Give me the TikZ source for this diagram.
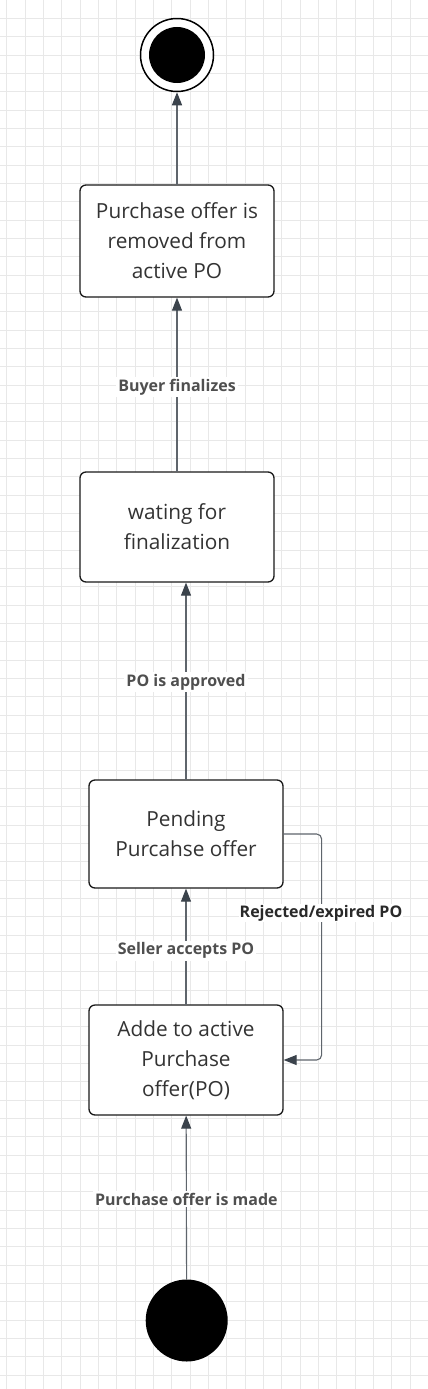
\documentclass[tikz,border=0pt]{standalone}
\usepackage{fontspec}
\setmainfont{Open Sans}
\usetikzlibrary{arrows.meta}
\definecolor{gridgray}{HTML}{E8E8E8}
\definecolor{linegray}{HTML}{5F656C}
\definecolor{tipgray}{HTML}{3B434C}
\definecolor{textgray}{HTML}{333333}
\definecolor{labelgray}{HTML}{4F4F4F}
\tikzset{
  state/.style={draw=black!90, line width=1.3pt, rounded corners=6pt, fill=white,
    minimum width=194pt, minimum height=110pt, align=center, text=textgray,
    font=\fontsize{20.8}{30}\selectfont},
  flow/.style={draw=linegray, line width=1.1pt,
    -{Triangle[length=13pt,width=10pt,color=tipgray]}},
  translabel/.style={fill=white, inner sep=2pt, text=labelgray,
    font=\fontsize{16}{18}\selectfont\bfseries},
}
\begin{document}
\begin{tikzpicture}[x=1pt, y=-1pt, line join=round, line cap=round]
  \def\W{428} \def\H{1389}
  \useasboundingbox (0,0) rectangle (\W,\H);
  \fill[white] (0,0) rectangle (\W,\H);
  % grid
  \foreach \i in {0,...,23} \draw[gridgray, line width=0.8pt] ({6.7+18.333*\i},0)--({6.7+18.333*\i},\H);
  \foreach \j in {1,...,75} \draw[gridgray, line width=0.8pt] (0,{18.333*\j})--(\W,{18.333*\j});
  % states
  \node[circle, fill=black, minimum size=82pt, inner sep=0pt] (start) at (186.7,1320.5) {};
  \node[state] (added) at (186,1060) {Adde to active\\Purchase\\offer(PO)};
  \node[state, minimum height=108pt] (pending) at (186,834) {Pending\\Purcahse offer};
  \node[state] (waiting) at (177,527) {wating for\\finalization};
  \node[state, minimum height=112pt] (removed) at (177,241) {Purchase offer is\\removed from\\active PO};
  \node[circle, draw=black, line width=1.5pt, fill=white, minimum size=73pt, inner sep=0pt] (final) at (177,55) {};
  \fill (final) circle (28);
  % transitions
  \draw[flow] (start) -- node[translabel, pos=0.49]{Purchase offer is made} (added);
  \draw[flow] (added) -- node[translabel, pos=0.465]{Seller accepts PO} (pending);
  \draw[flow] (pending.north) -- node[translabel, pos=0.495]{PO is approved} (pending.north |- waiting.south);
  \draw[flow] (waiting) -- node[translabel, pos=0.486]{Buyer finalizes} (removed);
  \draw[flow] (removed) -- (final);
  \draw[flow, rounded corners=5pt] (pending.east) -- ++(38,0) |- (added.east);
  \node[translabel, text=textgray!80!black, inner sep=1pt] (loop) at (321,913) {Rejected/expired PO};
\end{tikzpicture}
\end{document}
